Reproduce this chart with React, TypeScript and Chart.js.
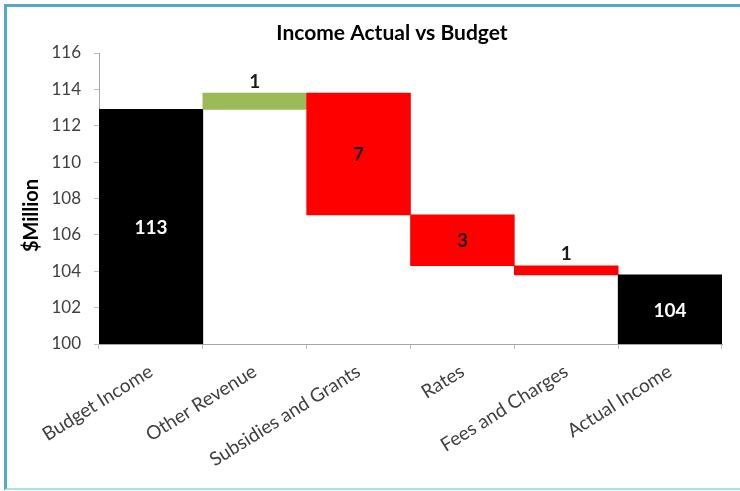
import React, { useEffect, useRef } from "react";
import { Chart, registerables } from "chart.js";

Chart.register(...registerables);

// ---- data ----
const categories = [
  "Budget Income",
  "Other Revenue",
  "Subsidies and Grants",
  "Rates",
  "Fees and Charges",
  "Actual Income",
];
const axisBase = 100;
const budgetIncome = 112.9;
const changes = [0.9, -6.7, -2.8, -0.5];
const actualIncome = 103.8;
const valueLabels = ["113", "1", "7", "3", "1", "104"];
const barColors = ["#000000", "#9BBB59", "#FF0000", "#FF0000", "#FF0000", "#000000"];
const yMin = 100;
const yMax = 116;
const yStep = 2;
const chartTitle = "Income Actual vs Budget";
const yAxisTitle = "$Million";

// build floating ranges for the waterfall
const ranges: [number, number][] = [];
ranges.push([axisBase, budgetIncome]);
let level = budgetIncome;
for (const c of changes) {
  ranges.push([level, level + c]);
  level += c;
}
ranges.push([axisBase, actualIncome]);

const FONT = "Lato";

const labelPlugin = {
  id: "waterfallLabels",
  afterDatasetsDraw(chart: any) {
    const ctx = chart.ctx;
    const meta = chart.getDatasetMeta(0);
    ctx.save();
    ctx.font = `bold 19px ${FONT}`;
    ctx.textAlign = "center";
    meta.data.forEach((bar: any, i: number) => {
      const { x, y, base } = bar.getProps(["x", "y", "base"], true);
      const top = Math.min(y, base);
      const bottom = Math.max(y, base);
      if (bottom - top > 30) {
        ctx.fillStyle = barColors[i] === "#000000" ? "#FFFFFF" : "#1A1A1A";
        ctx.textBaseline = "middle";
        ctx.fillText(valueLabels[i], x, (top + bottom) / 2 + 1);
      } else {
        ctx.fillStyle = "#1A1A1A";
        ctx.textBaseline = "bottom";
        ctx.fillText(valueLabels[i], x, top - 2);
      }
    });
    ctx.restore();
  },
};

const titlesPlugin = {
  id: "titles",
  afterDraw(chart: any) {
    const ctx = chart.ctx;
    const area = chart.chartArea;
    ctx.save();
    ctx.fillStyle = "#000000";
    ctx.font = `bold 21px ${FONT}`;
    ctx.textAlign = "center";
    ctx.textBaseline = "middle";
    ctx.fillText(chartTitle, 392, 33);
    ctx.translate(32, (area.top + area.bottom) / 2 + 17);
    ctx.rotate(-Math.PI / 2);
    ctx.font = `bold 20px ${FONT}`;
    ctx.fillText(yAxisTitle, 0, 0);
    ctx.restore();
  },
};

export default function App() {
  const ref = useRef<HTMLCanvasElement | null>(null);

  useEffect(() => {
    if (!ref.current) return;
    Chart.defaults.font.family = FONT;
    const chart = new Chart(ref.current, {
      type: "bar",
      data: {
        labels: categories,
        datasets: [
          {
            data: ranges as any,
            backgroundColor: barColors,
            borderWidth: 0,
            barPercentage: 1,
            categoryPercentage: 1,
          },
        ],
      },
      options: {
        animation: false,
        responsive: false,
        devicePixelRatio: 1,
        layout: { padding: { left: 0, right: 18, top: 53, bottom: 0 } },
        plugins: {
          legend: { display: false },
          tooltip: { enabled: false },
          title: { display: false },
        },
        scales: {
          x: {
            grid: {
              display: true,
              drawOnChartArea: false,
              drawTicks: true,
              tickLength: 5,
              color: "#BFBFBF",
              offset: true,
            },
            border: { display: true, color: "#A6A6A6" },
            ticks: {
              color: "#404040",
              font: { size: 19, family: FONT },
              maxRotation: 32,
              minRotation: 32,
              autoSkip: false,
              padding: 11,
            },
            afterFit(scale: any) {
              scale.height = 147;
            },
          },
          y: {
            min: yMin,
            max: yMax,
            grid: {
              display: true,
              drawOnChartArea: false,
              drawTicks: true,
              tickLength: 5,
              color: "#BFBFBF",
            },
            border: { display: true, color: "#A6A6A6" },
            ticks: {
              stepSize: yStep,
              color: "#404040",
              font: { size: 17, family: FONT },
              padding: 13,
            },
            afterFit(scale: any) {
              scale.width = 99;
            },
          },
        },
      },
      plugins: [labelPlugin, titlesPlugin],
    });
    return () => chart.destroy();
  }, []);

  return (
    <div
      style={{
        position: "fixed",
        left: 0,
        top: 0,
        width: 740,
        height: 491,
        background: "#FFFFFF",
      }}
    >
      <canvas ref={ref} width={740} height={491} style={{ position: "absolute", left: 0, top: 0 }} />
      <div
        style={{
          position: "absolute",
          left: 4,
          top: 4,
          width: 736,
          height: 486,
          boxSizing: "border-box",
          borderLeft: "3px solid #52A9C9",
          borderTop: "3px solid #52A9C9",
          borderBottom: "2px solid #A8E0F0",
          pointerEvents: "none",
        }}
      />
    </div>
  );
}
